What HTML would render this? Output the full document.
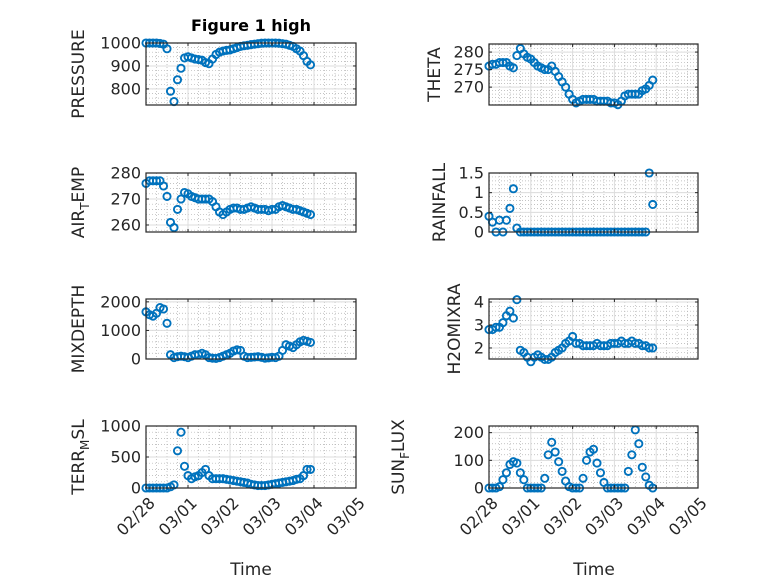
<!DOCTYPE html>
<html><head><meta charset="utf-8"><style>
html,body{margin:0;padding:0;background:#fff;}
svg{display:block;font-family:"DejaVu Sans","Liberation Sans",sans-serif;}
</style></head><body>
<svg id="fig" width="778" height="583" viewBox="0 0 778 583" xmlns="http://www.w3.org/2000/svg">
<rect width="778" height="583" fill="#fff"/>
<text x="251" y="31" text-anchor="middle" font-size="16" font-weight="bold" fill="#000">Figure 1 high</text>
<text x="251" y="575" text-anchor="middle" font-size="17" fill="#262626">Time</text>
<text x="594" y="575" text-anchor="middle" font-size="17" fill="#262626">Time</text>
</svg>
<script>
const dayLabels = ["02/28","03/01","03/02","03/03","03/04","03/05"];
const pressure = [1000,1000,1000,1000,998,995,975,790,745,840,890,935,940,935,930,928,925,915,910,930,950,960,965,968,970,975,980,985,988,990,993,995,997,999,1000,1000,1000,1000,999,997,995,990,985,975,965,945,920,905];
const airTemp = [276,277,277,277,277,275,271,261,259,266,270,272.5,272,271,270.5,270,270,270,270,269,267,265,264,265,266,266.5,266.5,266,266,266.5,267,266.5,266,266,266,265.5,266,266,267,267.5,267,266.5,266,266,265.5,265,264.5,264];
const mixDepth = [1650,1550,1500,1600,1800,1750,1250,150,50,80,100,80,50,100,150,150,200,150,50,30,20,50,100,150,200,280,320,300,100,50,60,70,80,60,30,40,60,50,100,300,500,450,400,500,600,650,620,580];
const terrMsl = [0,0,0,0,0,0,0,20,50,600,900,350,200,150,180,200,250,300,200,150,150,150,150,140,130,120,110,100,90,80,60,50,40,40,40,50,60,70,80,90,100,110,120,140,150,200,300,300];
const theta = [276,276.5,276.5,277,277,277,276,275.5,279,281,279.5,278.5,278,277,276,275.5,275,275,276,274.5,273,271.5,270,268,266.5,265.5,266,266.5,266.5,266.5,266.5,266,266,266,266,265.5,265.5,265,266,267.5,268,268,268,268,269,269.5,270.5,272];
const rainfall = [0.4,0.25,0,0.3,0,0.3,0.6,1.1,0.1,0,0,0,0,0,0,0,0,0,0,0,0,0,0,0,0,0,0,0,0,0,0,0,0,0,0,0,0,0,0,0,0,0,0,0,0,0,1.5,0.7];
const h2oMix = [2.8,2.8,2.9,2.9,3.1,3.4,3.6,3.3,4.1,1.9,1.8,1.6,1.4,1.6,1.7,1.6,1.5,1.5,1.6,1.8,1.9,2.0,2.2,2.3,2.5,2.2,2.2,2.1,2.1,2.1,2.1,2.2,2.1,2.1,2.1,2.2,2.2,2.2,2.3,2.2,2.2,2.3,2.2,2.2,2.1,2.1,2.0,2.0];
const sunFlux = [0,0,0,5,30,55,85,95,90,55,30,0,0,0,0,0,35,120,165,130,95,60,25,5,0,0,0,35,100,130,140,90,55,20,0,0,0,0,0,0,60,120,210,160,75,40,10,0];
const pressureTicks = [800,900,1000];
const airTicks = [260,270,280];
const mixTicks = [0,1000,2000];
const terrTicks = [0,500,1000];
const thetaTicks = [270,275,280];
const rainTicks = [0,0.5,1,1.5];
const h2oTicks = [2,3,4];
const sunTicks = [0,100,200];

const NS="http://www.w3.org/2000/svg";
const svg=document.getElementById('fig');
function mk(tag,attrs,parent){const e=document.createElementNS(NS,tag);for(const k in attrs)e.setAttribute(k,attrs[k]);(parent||svg).appendChild(e);return e;}

function panel(name,L,T,W,H,ymin,ymax,yticks,vals,labelParts,labelX,showX){
  const g=mk('g',{});
  
  
  const xs=d=>L+d/5*W;
  const ys=v=>T+H-(v-ymin)/(ymax-ymin)*H;
  for(let i=0;i<=20;i++){if(i%4===0)continue;const x=L+i/20*W;
    mk('line',{x1:x,x2:x,y1:T,y2:T+H,stroke:'#b0b0b0','stroke-width':0.7,'stroke-dasharray':'1,2'},g);}
  const step=yticks[1]-yticks[0];
  for(let v=yticks[0]-step;v<=ymax+step;v+=step/5){
    if(v<ymin||v>ymax)continue;const y=ys(v);
    mk('line',{x1:L,x2:L+W,y1:y,y2:y,stroke:'#b0b0b0','stroke-width':0.7,'stroke-dasharray':'1,2'},g);}
  for(let d=1;d<5;d++){const x=xs(d);mk('line',{x1:x,x2:x,y1:T,y2:T+H,stroke:'#dcdcdc','stroke-width':1},g);}
  yticks.forEach(v=>{const y=ys(v);if(y>T+1&&y<T+H-1)mk('line',{x1:L,x2:L+W,y1:y,y2:y,stroke:'#dcdcdc','stroke-width':1},g);});
  vals.forEach((v,i)=>{const c=mk('circle',{cx:xs(i/12),cy:ys(v),r:3.6,fill:'none',stroke:'#0072BD','stroke-width':1.9},g);
    
    });
  mk('rect',{x:L,y:T,width:W,height:H,fill:'none',stroke:'#262626','stroke-width':1.2},g);
  for(let d=0;d<=5;d++){const x=xs(d);mk('line',{x1:x,x2:x,y1:T+H,y2:T+H-3,stroke:'#262626'},g);mk('line',{x1:x,x2:x,y1:T,y2:T+3,stroke:'#262626'},g);}
  yticks.forEach(v=>{const y=ys(v);mk('line',{x1:L,x2:L+3,y1:y,y2:y,stroke:'#262626'},g);mk('line',{x1:L+W,x2:L+W-3,y1:y,y2:y,stroke:'#262626'},g);
    const t=mk('text',{x:L-5,y:y+5.5,'text-anchor':'end','font-size':16,fill:'#262626'},g);t.textContent=String(v);
    
    });
  const cy=T+H/2;
  const yl=mk('text',{x:labelX,y:cy,'text-anchor':'middle','font-size':17,fill:'#262626',transform:`rotate(-90 ${labelX} ${cy})`},g);
  
  
  labelParts.forEach(p=>{const s=mk('tspan',{},yl);s.textContent=p[0];
    if(p[1]==='sub'){s.setAttribute('font-size','12');s.setAttribute('dy','5');}
    else if(p[1]==='after'){s.setAttribute('dy','-5');}});
  if(showX){dayLabels.forEach((lab,d)=>{const x=xs(d)+10,y=T+H+16;
    const t=mk('text',{x:x,y:y,'text-anchor':'end','font-size':16,fill:'#262626',transform:`rotate(-45 ${x} ${y})`},g);t.textContent=lab;
    
    });}
}
panel('pressure',146,43,210,62,730,1000,pressureTicks,pressure,[['PRESSURE']],84,false);
panel('air-temp',146,173,210,59,257.3,280,airTicks,airTemp,[['AIR'],['T','sub'],['EMP','after']],84,false);
panel('mixdepth',146,299,210,60,0,2100,mixTicks,mixDepth,[['MIXDEPTH']],84,false);
panel('terr-msl',146,426,210,62,0,1000,terrTicks,terrMsl,[['TERR'],['M','sub'],['SL','after']],84,true);
panel('theta',489,44,209,61,264.9,282.3,thetaTicks,theta,[['THETA']],440,false);
panel('rainfall',489,173,209,59,0,1.5,rainTicks,rainfall,[['RAINFALL']],445,false);
panel('h2omixra',489,299,209,60,1.52,4.13,h2oTicks,h2oMix,[['H2OMIXRA']],460,false);
panel('sun-flux',489,426,209,62,0,224,sunTicks,sunFlux,[['SUN'],['F','sub'],['LUX','after']],404,true);
</script>
</body></html>
